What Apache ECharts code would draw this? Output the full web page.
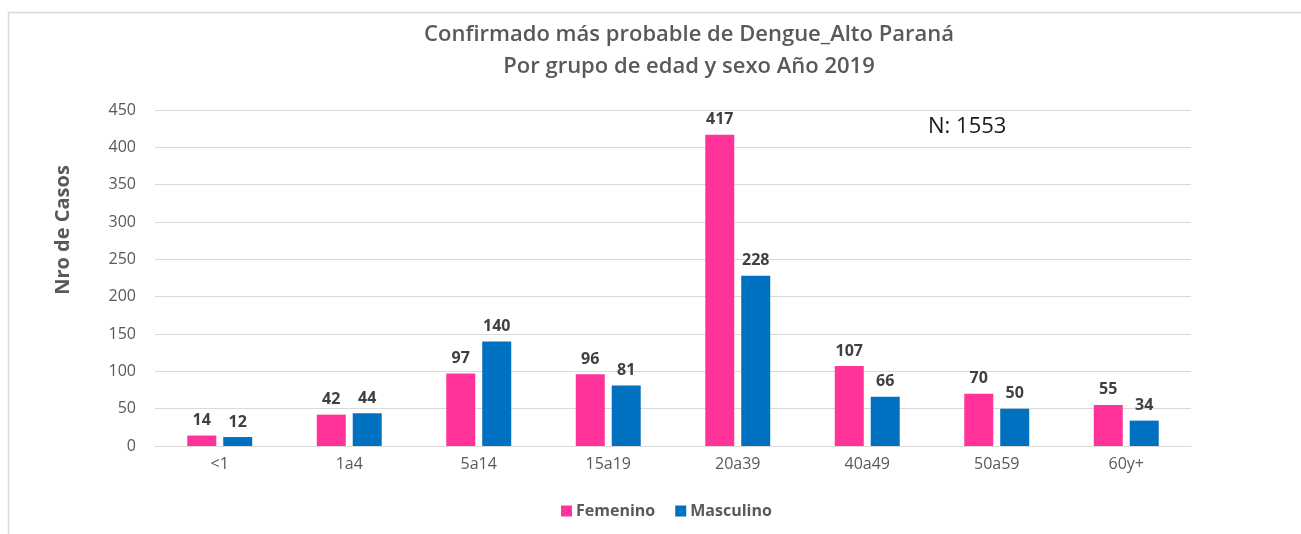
<!DOCTYPE html>
<html>
<head>
<meta charset="utf-8">
<script src="https://cdn.jsdelivr.net/npm/echarts@6/dist/echarts.min.js"></script>
<style>
html,body{margin:0;padding:0;background:#fff;}
#chart{width:1301px;height:534px;}
</style>
</head>
<body>
<div id="chart"></div>
<script>
const categories = ['<1', '1a4', '5a14', '15a19', '20a39', '40a49', '50a59', '60y+'];
const femenino = [14, 42, 97, 96, 417, 107, 70, 55];
const masculino = [12, 44, 140, 81, 228, 66, 50, 34];
const yTicks = { min: 0, max: 450, interval: 50 };

const chart = echarts.init(document.getElementById('chart'));
const labelStyle = { show: true, position: 'top', distance: 7, color: '#404040', fontWeight: 'bold', fontSize: 16, fontFamily: 'Open Sans' };
chart.setOption({
  animation: false,
  backgroundColor: '#fff',
  title: {
    text: 'Confirmado más probable de Dengue_Alto Paraná\nPor grupo de edad y sexo Año 2019',
    left: 684, top: 14, textAlign: 'center',
    textStyle: { color: '#595959', fontSize: 22, fontWeight: 600, fontFamily: 'Open Sans', lineHeight: 32 }
  },
  legend: {
    bottom: 10, left: 556,
    itemWidth: 11, itemHeight: 11, itemGap: 20,
    icon: 'rect',
    textStyle: { color: '#595959', fontSize: 16, fontWeight: 'bold', fontFamily: 'Open Sans', padding: [0, 0, 0, -1] },
    data: ['Femenino', 'Masculino']
  },
  grid: { left: 155, right: 110, top: 110, bottom: 88, containLabel: false },
  xAxis: {
    type: 'category', data: categories,
    axisLine: { lineStyle: { color: '#d9d9d9' } },
    axisTick: { show: false },
    axisLabel: { color: '#595959', fontSize: 16, fontFamily: 'Open Sans', margin: 10 }
  },
  yAxis: {
    type: 'value', min: yTicks.min, max: yTicks.max, interval: yTicks.interval,
    axisLine: { show: false }, axisTick: { show: false },
    axisLabel: { color: '#595959', fontSize: 16, fontFamily: 'Open Sans', margin: 19 },
    splitLine: { lineStyle: { color: '#d9d9d9' } }
  },
  series: [
    { name: 'Femenino', type: 'bar', data: femenino, barWidth: 29, barGap: '24%', itemStyle: { color: '#FF3399' }, label: labelStyle },
    { name: 'Masculino', type: 'bar', data: masculino, barWidth: 29, itemStyle: { color: '#0070C0' }, label: labelStyle }
  ],
  graphic: [
    { type: 'polyline', shape: { points: [[8.5, 534], [8.5, 12.5], [1301, 12.5]] }, style: { stroke: '#d9d9d9', lineWidth: 1.5, fill: null } },
    { type: 'text', x: 63, y: 230, rotation: Math.PI / 2, style: { text: 'Nro de Casos', fill: '#595959', fontSize: 20, fontWeight: 'bold', fontFamily: 'Open Sans', align: 'center', verticalAlign: 'middle' } },
    { type: 'text', x: 928, y: 127, style: { text: 'N: 1553', fill: '#1a1a1a', fontSize: 22, fontFamily: 'Open Sans', verticalAlign: 'middle' } }
  ]
});
</script>
</body>
</html>
